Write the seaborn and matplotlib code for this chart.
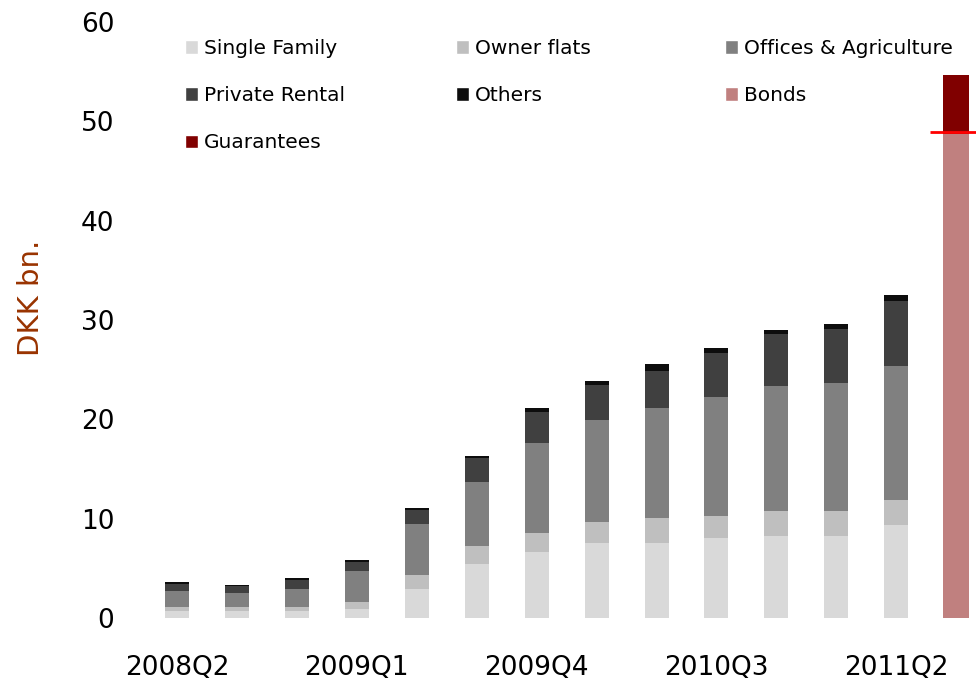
import matplotlib
matplotlib.use("Agg")
import matplotlib.pyplot as plt
from matplotlib.patches import Patch
import numpy as np
import pandas as pd
import seaborn as sns

# ---------------------------------------------------------------------------
# Data (DKK bn.)
# ---------------------------------------------------------------------------
quarters = ["2008Q2", "2008Q3", "2008Q4", "2009Q1", "2009Q2", "2009Q3", "2009Q4",
            "2010Q1", "2010Q2", "2010Q3", "2010Q4", "2011Q1", "2011Q2"]
single_family  = [0.7, 0.7, 0.7, 0.9, 2.9, 5.4, 6.6, 7.5, 7.6, 8.1, 8.3, 8.3, 9.4]
owner_flats    = [0.4, 0.4, 0.4, 0.7, 1.4, 1.8, 2.0, 2.2, 2.5, 2.2, 2.5, 2.5, 2.5]
offices_agri   = [1.6, 1.4, 1.8, 3.1, 5.2, 6.5, 9.0, 10.2, 11.0, 11.9, 12.6, 12.9, 13.5]
private_rental = [0.7, 0.7, 0.9, 0.9, 1.4, 2.4, 3.1, 3.6, 3.8, 4.5, 5.2, 5.4, 6.5]
others         = [0.2, 0.1, 0.2, 0.2, 0.2, 0.2, 0.4, 0.4, 0.7, 0.5, 0.4, 0.5, 0.6]

funding_label = " "          # last bar, no tick label
bonds = 48.7
guarantees = 6.0
red_line_level = 48.9

tick_labels = ["2008Q2", "2009Q1", "2009Q4", "2010Q3", "2011Q2"]

# ---------------------------------------------------------------------------
layers = [
    ("Single Family", single_family, "#d9d9d9"),
    ("Owner flats", owner_flats, "#bfbfbf"),
    ("Offices & Agriculture", offices_agri, "#808080"),
    ("Private Rental", private_rental, "#404040"),
    ("Others", others, "#0d0d0d"),
]
bonds_color = "#c0807f"
guar_color = "#800000"

order = quarters + [funding_label]

df = pd.DataFrame({"quarter": quarters})
cum = np.zeros(len(quarters))
for name, vals, _ in layers:
    cum = cum + np.array(vals)
    df[name] = cum

df_fund = pd.DataFrame({"quarter": [funding_label],
                        "Bonds": [bonds],
                        "Total": [bonds + guarantees]})

sns.set_style("white")
plt.rcParams["font.family"] = ["DejaVu Sans"]
plt.rcParams["text.color"] = "black"
plt.rcParams["xtick.color"] = "black"
plt.rcParams["ytick.color"] = "black"

fig = plt.figure(figsize=(9.76, 6.84), dpi=100)
ax = fig.add_axes([0.123, 0.0965, 0.877, 0.8713])

# stacked bars: draw cumulative totals from the top layer down
for (name, _, color) in reversed(layers):
    sns.barplot(data=df, x="quarter", y=name, order=order, color=color,
                width=0.4, ax=ax, saturation=1, linewidth=0)

sns.barplot(data=df_fund, x="quarter", y="Total", order=order, color=guar_color,
            width=0.44, ax=ax, saturation=1, linewidth=0)
sns.barplot(data=df_fund, x="quarter", y="Bonds", order=order, color=bonds_color,
            width=0.44, ax=ax, saturation=1, linewidth=0)

ax.plot([12.57, 13.4], [red_line_level, red_line_level], color="#ff0000",
        linewidth=2, solid_capstyle="butt", clip_on=False, zorder=5)

ax.set_xlim(-0.95, 13.33)
ax.set_ylim(0, 60)
ax.set_yticks(range(0, 61, 10))
ax.set_xticks([order.index(t) for t in tick_labels])
ax.set_xticklabels(tick_labels)
ax.tick_params(axis="x", length=0, pad=27, labelsize=19, labelcolor="black")
ax.tick_params(axis="y", length=0, pad=4, labelsize=19, labelcolor="black")
for s in ax.spines.values():
    s.set_visible(False)

ax.set_xlabel("")
ax.set_ylabel("DKK bn.", color="#993300", fontsize=21)
ax.yaxis.set_label_coords(-0.088, 0.537)

# legend laid out row by row, one legend per column
patches = [Patch(facecolor=c, label=n) for n, _, c in layers]
patches += [Patch(facecolor=bonds_color, label="Bonds"),
            Patch(facecolor=guar_color, label="Guarantees")]
columns = [patches[0::3], patches[1::3], patches[2::3]]
col_x = [185, 456, 725]
for hs, x in zip(columns, col_x):
    leg = fig.legend(handles=hs, loc="upper left",
                     bbox_to_anchor=(x / 976, 1 - 39 / 684),
                     frameon=False, fontsize=14.5, handlelength=0.65,
                     handleheight=0.65, handletextpad=0.3, labelspacing=1.4,
                     borderpad=0, borderaxespad=0)
    for t in leg.get_texts():
        t.set_color("black")

fig.savefig("out.png", dpi=100)
